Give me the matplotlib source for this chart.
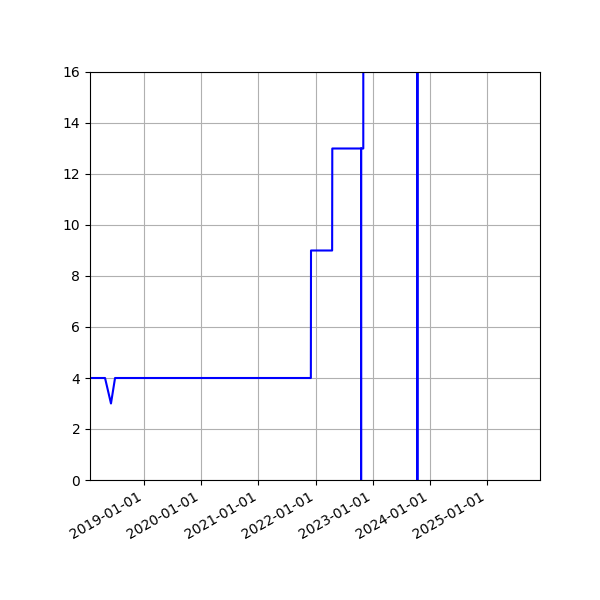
import pandas as pd
import matplotlib
matplotlib.use("Agg")
from matplotlib import pyplot as plt
import matplotlib.dates as mdates

# series (values beyond 0..16 run off the axes)
dates = ['2018-01-21', '2018-04-27', '2018-06-04', '2018-06-30',
         '2021-12-02', '2021-12-03', '2022-04-17', '2022-04-18',
         '2022-10-19', '2022-10-19', '2022-10-19', '2022-11-02',
         '2022-11-03', '2023-10-12', '2023-10-13', '2023-10-16',
         '2025-12-05']
values = [4, 4, 3, 4,
          4, 9, 9, 13,
          13, -50, 13, 13,
          50, 50, -50, 50,
          50]

x = pd.to_datetime(dates)

fig = plt.figure(figsize=(6, 6), dpi=100)
ax = fig.add_axes([0.15, 0.2, 0.75, 0.68])
ax.plot(x, values, color='blue', lw=1.5)

ax.set_ylim(0, 16)
ax.set_xlim(pd.Timestamp('2018-01-21'), pd.Timestamp('2025-12-05'))
ax.xaxis.set_major_locator(mdates.YearLocator())
ax.xaxis.set_major_formatter(mdates.DateFormatter('%Y-%m-%d'))
ax.grid(True, color='#b0b0b0')
for lab in ax.get_xticklabels():
    lab.set_rotation(30)
    lab.set_ha('right')

fig.savefig('out.png')
